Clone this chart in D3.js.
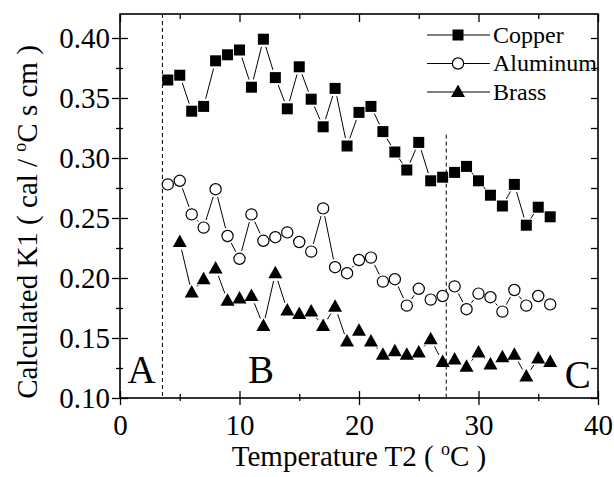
<html>
<head>
<script src="https://cdn.jsdelivr.net/npm/d3@7"></script>
<style>
body { margin: 0; background: #fff; }
svg text { font-family: "Liberation Serif", "Times New Roman", serif; fill: #000; }
</style>
</head>
<body>
<div id="canvas"></div>
<script>
// data
var copperT = [4,5,6,7,8,9,10,11,12,13,14,15,16,17,18,19,20,21,22,23,24,25,26,27,28,29,30,31,32,33,34,35,36];
var copperK = [0.365,0.369,0.339,0.343,0.381,0.386,0.390,0.359,0.399,0.367,0.341,0.376,0.349,0.326,0.358,0.310,
               0.338,0.343,0.322,0.305,0.290,0.313,0.281,0.284,0.288,0.293,0.281,0.269,0.260,0.278,0.244,0.259,0.251];
var aluT = [4,5,6,7,8,9,10,11,12,13,14,15,16,17,18,19,20,21,22,23,24,25,26,27,28,29,30,31,32,33,34,35,36];
var aluK = [0.278,0.281,0.253,0.242,0.274,0.235,0.216,0.253,0.231,0.234,0.238,0.230,0.222,0.258,0.209,0.204,
            0.215,0.217,0.197,0.199,0.177,0.191,0.182,0.185,0.193,0.174,0.187,0.184,0.172,0.190,0.177,0.185,0.178];
var brassT = [5,6,7,8,9,10,11,12,13,14,15,16,17,18,19,20,21,22,23,24,25,26,27,28,29,30,31,32,33,34,35,36];
var brassK = [0.230,0.188,0.199,0.208,0.181,0.183,0.185,0.160,0.204,0.173,0.170,0.172,0.160,0.176,0.147,0.156,
              0.147,0.136,0.139,0.136,0.138,0.149,0.130,0.132,0.126,0.138,0.128,0.134,0.136,0.118,0.133,0.130];
var xMajor = [0,10,20,30,40];
var xMinor = [5,15,25,35];
var yMajor = [0.10,0.15,0.20,0.25,0.30,0.35,0.40];
var yMinor = [0.125,0.175,0.225,0.275,0.325,0.375];
var seriesNames = ["Copper","Aluminum","Brass"];
var regions = [{label:"A", x:1.8}, {label:"B", x:11.8}, {label:"C", x:38.3}];
var dividers = [{x:3.55, top:0.42}, {x:27.3, top:0.3195}];

var W = 614, H = 477;
var pLeft = 120, pRight = 598, pTop = 14, pBottom = 398;

var svg = d3.select("#canvas").append("svg").attr("width", W).attr("height", H);

var x = d3.scaleLinear().domain([0,40]).range([pLeft,pRight]);
var y = d3.scaleLinear().domain([0.10,0.42]).range([pBottom,pTop]);

// frame
svg.append("rect").attr("x",pLeft).attr("y",pTop).attr("width",pRight-pLeft).attr("height",pBottom-pTop)
	.attr("fill","none").attr("stroke","#000").attr("stroke-width",1.6);

function ticks(axis, pos){
	var g = svg.append("g").attr("transform",pos).call(axis);
	g.select(".domain").remove();
	g.selectAll("line").attr("stroke","#000").attr("stroke-width",1.3);
	return g;
}
// bottom axis
var bx = ticks(d3.axisBottom(x).tickValues(xMajor).tickSize(7).tickFormat(d3.format("d")), "translate(0,"+pBottom+")");
bx.selectAll("text").attr("font-size",29).attr("dy","0.78em").attr("y",14);
ticks(d3.axisTop(x).tickValues(xMajor).tickSize(7).tickFormat(""), "translate(0,"+pBottom+")");
ticks(d3.axisBottom(x).tickValues(xMinor).tickSize(3).tickFormat(""), "translate(0,"+pBottom+")");
ticks(d3.axisTop(x).tickValues(xMinor).tickSize(4).tickFormat(""), "translate(0,"+pBottom+")");
// top axis
ticks(d3.axisBottom(x).tickValues(xMajor).tickSize(8).tickFormat(""), "translate(0,"+pTop+")");
ticks(d3.axisBottom(x).tickValues(xMinor).tickSize(5).tickFormat(""), "translate(0,"+pTop+")");
// left axis
var ly = ticks(d3.axisLeft(y).tickValues(yMajor).tickSize(8).tickFormat(d3.format(".2f")), "translate("+pLeft+",0)");
ly.selectAll("text").attr("font-size",29).attr("x",-10).attr("dy","0.34em");
ticks(d3.axisRight(y).tickValues(yMajor).tickSize(8).tickFormat(""), "translate("+pLeft+",0)");
ticks(d3.axisLeft(y).tickValues(yMinor).tickSize(4).tickFormat(""), "translate("+pLeft+",0)");
ticks(d3.axisRight(y).tickValues(yMinor).tickSize(3).tickFormat(""), "translate("+pLeft+",0)");
// right axis
ticks(d3.axisLeft(y).tickValues(yMajor.concat(yMinor)).tickSize(7).tickFormat(""), "translate("+pRight+",0)");

// dashed dividers
svg.selectAll(".div").data(dividers).enter().append("line")
	.attr("x1",function(d){return x(d.x);}).attr("x2",function(d){return x(d.x);})
	.attr("y1",function(d){return y(d.top);}).attr("y2",pBottom)
	.attr("stroke","#000").attr("stroke-width",1).attr("stroke-dasharray","4,3");

// region letters
svg.selectAll(".reg").data(regions).enter().append("text")
	.attr("x",function(d){return x(d.x);}).attr("y",function(d){return d.label==="C" ? 388 : 383;})
	.attr("text-anchor","middle").attr("font-size",39).text(function(d){return d.label;});

// series
var series = [
	{name:seriesNames[0], t:copperT, k:copperK, shape:"square"},
	{name:seriesNames[1], t:aluT, k:aluK, shape:"circle"},
	{name:seriesNames[2], t:brassT, k:brassK, shape:"triangle"}
];

function marker(g, shape, cx, cy){
	if (shape === "square"){
		g.append("rect").attr("x",cx-5.5).attr("y",cy-5.5).attr("width",11).attr("height",11).attr("fill","#000");
	}
	if (shape === "circle"){
		g.append("circle").attr("cx",cx).attr("cy",cy).attr("r",5.6)
			.attr("fill","#fff").attr("stroke","#000").attr("stroke-width",1.2);
	}
	if (shape === "triangle"){
		g.append("path").attr("d","M"+cx+","+(cy-7.5)+"L"+(cx+7)+","+(cy+5)+"L"+(cx-7)+","+(cy+5)+"Z").attr("fill","#000");
	}
}

var gap = 8;
series.forEach(function(s){
	var g = svg.append("g");
	var pts = s.t.map(function(t,i){ return [x(t), y(s.k[i])]; });
	for (var i = 1; i < pts.length; i++){
		var a = pts[i-1], b = pts[i];
		var dx = b[0]-a[0], dy = b[1]-a[1], len = Math.sqrt(dx*dx+dy*dy);
		if (len <= gap*2) continue;
		var ux = dx/len, uy = dy/len;
		g.append("line").attr("x1",a[0]+ux*gap).attr("y1",a[1]+uy*gap)
			.attr("x2",b[0]-ux*gap).attr("y2",b[1]-uy*gap)
			.attr("stroke","#000").attr("stroke-width",1);
	}
	pts.forEach(function(p){ marker(g, s.shape, p[0], p[1]); });
});

// legend
series.forEach(function(s,i){
	var ly0 = 35 + i*28.5;
	var g = svg.append("g");
	g.append("line").attr("x1",427).attr("x2",490).attr("y1",ly0).attr("y2",ly0).attr("stroke","#000").attr("stroke-width",1);
	marker(g, s.shape, 458, ly0);
	g.append("text").attr("x",493).attr("y",ly0+7.5).attr("font-size",24).text(s.name);
});

// axis titles
var xt = svg.append("text").attr("x",(pLeft+pRight)/2).attr("y",466).attr("text-anchor","middle").attr("font-size",29);
xt.append("tspan").text("Temperature T2 ( ");
xt.append("tspan").attr("font-size",18).attr("dy",-11).text("o");
xt.append("tspan").attr("dy",11).text("C )");

var yt = svg.append("text").attr("transform","translate(37,222) rotate(-90)").attr("text-anchor","middle").attr("font-size",29);
yt.append("tspan").text("Calculated K1 ( cal / ");
yt.append("tspan").attr("font-size",18).attr("dy",-11).text("o");
yt.append("tspan").attr("dy",11).text("C s cm )");
</script>
</body>
</html>
